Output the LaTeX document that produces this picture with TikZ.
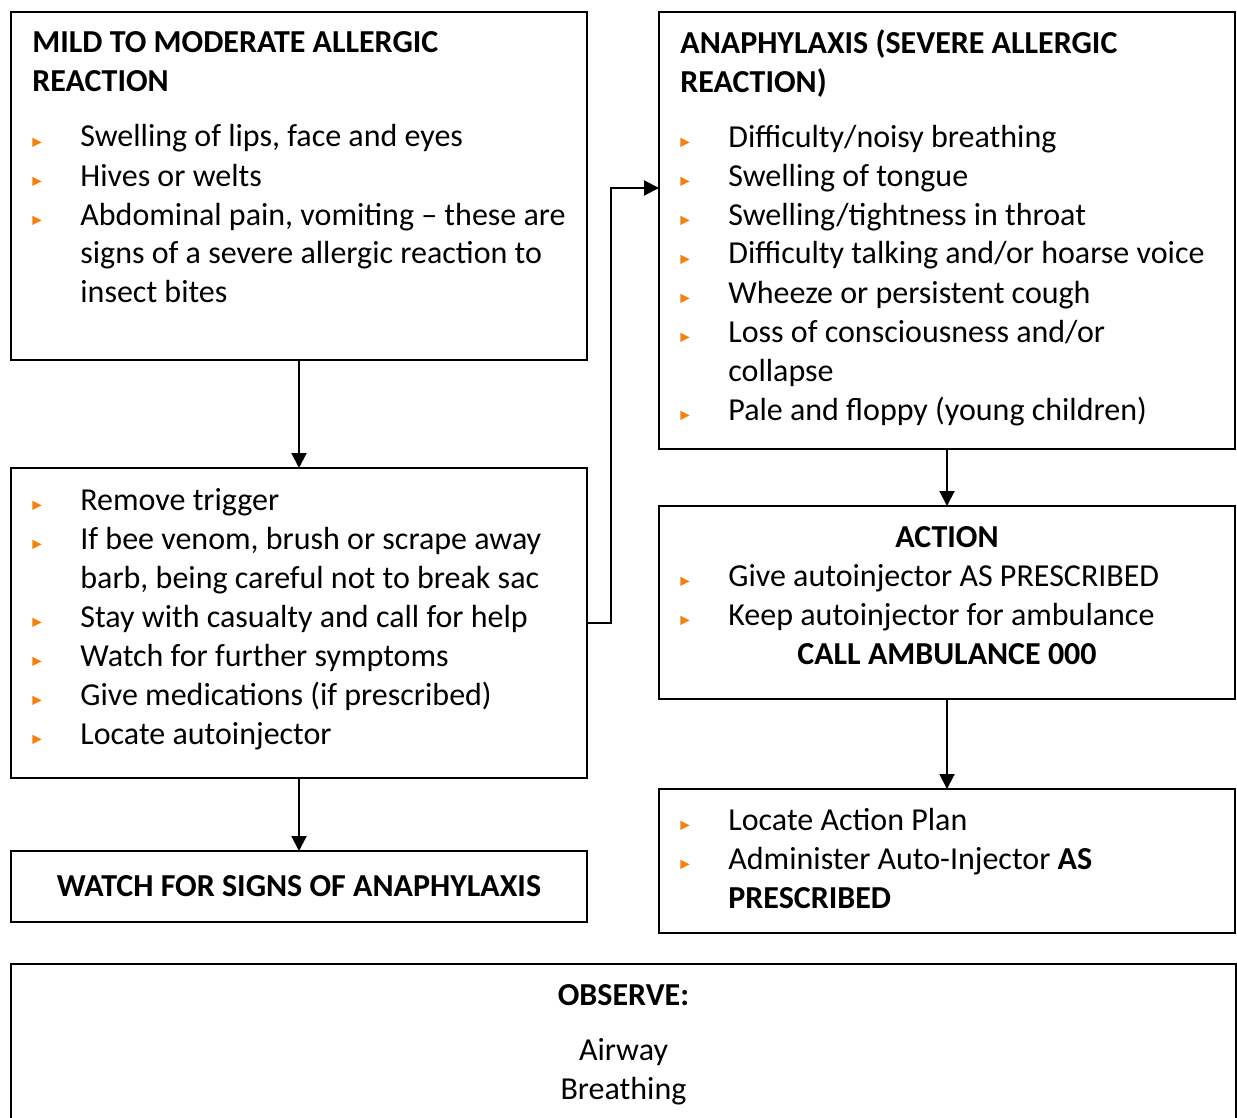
\documentclass[tikz,border=0pt]{standalone}
\usepackage{fontspec}
\setmainfont{Carlito}
\usepackage{xcolor}
\usepackage{tikz}
\usetikzlibrary{arrows.meta}
\definecolor{bulorange}{RGB}{242,130,18}
\newcommand{\bul}{\makebox[24pt][l]{\textcolor{bulorange}{\tikz\fill (0,0) -- (0,4.6pt) -- (4.6pt,2.3pt) -- cycle;}}}
\newcommand{\cont}{\hspace*{24pt}}

\begin{document}
\begin{tikzpicture}[x=0.5pt,y=-0.5pt,
  box/.style={draw,line width=1pt,anchor=north west,inner sep=0pt,outer sep=0pt,minimum width=288pt},
  txt/.style={anchor=base west,inner sep=0pt,align=left,font=\fontsize{16pt}{19.5pt}\selectfont},
  ctxt/.style={anchor=base,inner sep=0pt,align=center,font=\fontsize{16pt}{19.5pt}\selectfont},
  arr/.style={line width=1pt,-{Triangle[length=7.5pt,width=7.5pt]}}]
\useasboundingbox (0,0) rectangle (1237,1118);
% boxes
\node[box,minimum height=174pt] (mild) at (11,12) {};
\node[box,minimum height=155pt] (remove) at (11,468) {};
\node[box,minimum height=35.5pt,font=\fontsize{16pt}{19.5pt}\selectfont\bfseries] (watch) at (11,851) {WATCH FOR SIGNS OF ANAPHYLAXIS};
\node[box,minimum height=218.5pt] (anaph) at (659,12) {};
\node[box,minimum height=96.5pt] (action) at (659,506) {};
\node[box,minimum height=72pt] (locate) at (659,789) {};
\node[box,minimum width=612.5pt,minimum height=85pt] (observe) at (11,964) {};
% texts (placed by the baseline of their last line)
\node[txt] (mildtxt) at (32,303) {\textbf{MILD TO MODERATE ALLERGIC}\\\textbf{REACTION}\\[8pt]
  \bul Swelling of lips, face and eyes\\
  \bul Hives or welts\\
  \bul Abdominal pain, vomiting -- these are\\
  \cont signs of a severe allergic reaction to\\
  \cont insect bites};
\node[txt] (removetxt) at (32,744) {\bul Remove trigger\\
  \bul If bee venom, brush or scrape away\\
  \cont barb, being careful not to break sac\\
  \bul Stay with casualty and call for help\\
  \bul Watch for further symptoms\\
  \bul Give medications (if prescribed)\\
  \bul Locate autoinjector};
\node[txt] (anaphtxt) at (680,420) {\textbf{ANAPHYLAXIS (SEVERE ALLERGIC}\\\textbf{REACTION)}\\[8pt]
  \bul Difficulty/noisy breathing\\
  \bul Swelling of tongue\\
  \bul Swelling/tightness in throat\\
  \bul Difficulty talking and/or hoarse voice\\
  \bul Wheeze or persistent cough\\
  \bul Loss of consciousness and/or\\
  \cont collapse\\
  \bul Pale and floppy (young children)};
\node[ctxt] (acthead) at (947,547) {\textbf{ACTION}};
\node[txt] (acttxt) at (680,625) {\bul Give autoinjector AS PRESCRIBED\\
  \bul Keep autoinjector for ambulance};
\node[ctxt] (call) at (947,664) {\textbf{CALL AMBULANCE 000}};
\node[txt] (loctxt) at (680,908) {\bul Locate Action Plan\\
  \bul Administer Auto-Injector \textbf{AS}\\
  \cont\textbf{PRESCRIBED}};
\node[ctxt] (obshead) at (623.5,1005) {\textbf{OBSERVE:}};
\node[ctxt] (obstxt) at (623.5,1099) {Airway\\Breathing};
% connectors
\draw[arr] (mild.south) -- (remove.north);
\draw[arr] (remove.south) -- (watch.north);
\draw[arr] (anaph.south) -- (action.north);
\draw[arr] (action.south) -- (locate.north);
\coordinate (turn) at (611,188);
\draw[arr] (remove.east) -| (turn) -- (turn -| anaph.west);
\end{tikzpicture}
\end{document}
